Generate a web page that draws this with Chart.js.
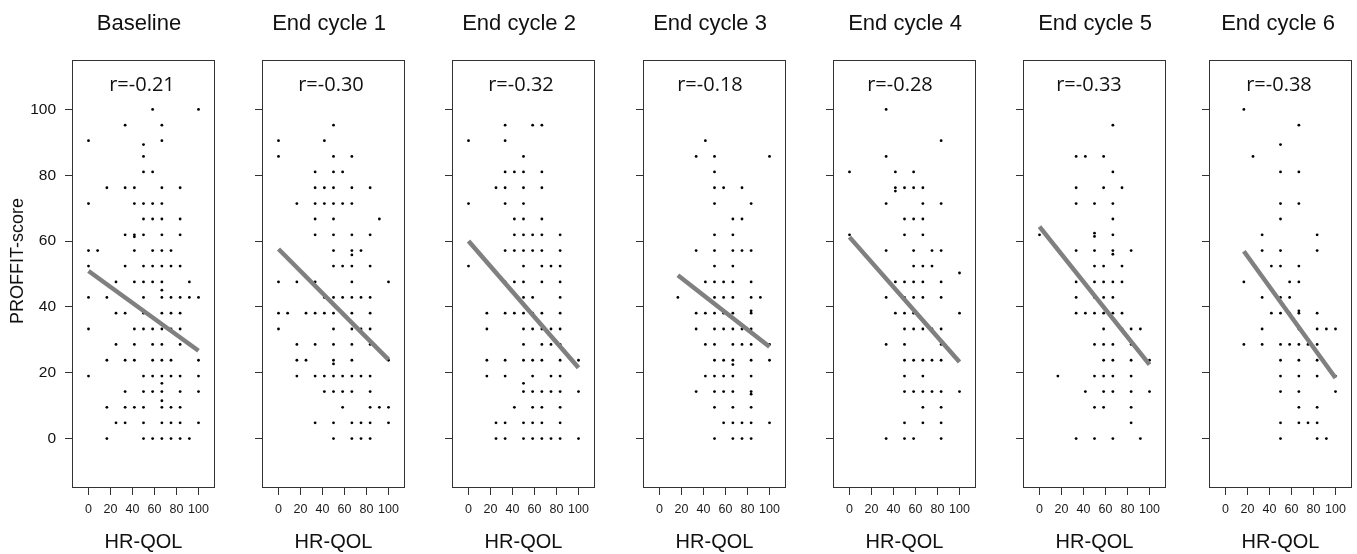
<!DOCTYPE html>
<html><head><meta charset="utf-8">
<script src="https://cdn.jsdelivr.net/npm/chart.js@4.4.1/dist/chart.umd.min.js"></script>
<style>
html,body{margin:0;padding:0;background:#fff;}
#wrap{position:relative;width:1357px;height:554px;overflow:hidden;background:#fff;}
#wrap canvas{position:absolute;top:0;}
</style></head><body><div id="wrap"></div>
<script>
// ---------- DATA ----------
const panelTitles = ['Baseline','End cycle 1','End cycle 2','End cycle 3','End cycle 4','End cycle 5','End cycle 6'];
const rLabels = ['r=-0.21','r=-0.30','r=-0.32','r=-0.18','r=-0.28','r=-0.33','r=-0.38'];
const xTickValues = [0,20,40,60,80,100];
const yTickValues = [0,20,40,60,80,100];
const xAxisTitle = 'HR-QOL';
const yAxisTitle = 'PROFFIT-score';

// points grouped as [PROFFIT-score, [HR-QOL values]]
const ptsBaseline = [
 [100,[58.3,100]],[95.2,[33.3,66.7]],[90.5,[0,66.7]],[89.3,[50]],[85.7,[50]],[81,[50,58.3]],
 [76.2,[16.7,33.3,41.7,66.7,83.3]],[71.4,[0,41.7,50,58.3,66.7]],[66.7,[50,58.3,66.7,83.3]],
 [61.9,[33.3,41.7,50,66.7,83.3]],[61.3,[41.7]],[57.1,[0,8.3,41.7,58.3,66.7,75]],
 [52.4,[0,33.3,50,58.3,66.7,75,83.3]],[47.6,[25,41.7,50,58.3,66.7,91.7]],[45.1,[66.7]],
 [42.9,[0,16.7,33.3,50,66.7,75,83.3,91.7,100]],[38.6,[50]],[38.1,[25,33.3,50,66.7,75,83.3]],
 [33.3,[0,41.7,50,58.3,66.7,75,83.3]],[28.6,[25,41.7,58.3,66.7,83.3,91.7]],
 [23.8,[16.7,33.3,41.7,58.3,66.7,75,100]],[19,[0,50,58.3,66.7,75,83.3,100]],[16.8,[66.7]],
 [14.3,[33.3,50,58.3,66.7,83.3,100]],[11.5,[66.7]],[9.5,[16.7,33.3,41.7,50,66.7,75,83.3]],
 [4.8,[25,33.3,50,66.7,75,83.3,100]],[0,[16.7,50,58.3,66.7,75,83.3,91.7]]
];
const ptsCycle1 = [
 [95.2,[50]],[90.5,[0,41.7]],[85.7,[0,50,66.7]],[81,[33.3,50,58.3]],
 [76.2,[33.3,41.7,50,66.7,83.3]],[71.4,[16.7,33.3,41.7,50,58.3,66.7]],[66.7,[33.3,50,91.7]],
 [61.9,[33.3,50,66.7,83.3]],[57.1,[50,66.7,75]],[55.8,[66.7]],[52.4,[50,58.3,66.7,83.3]],
 [47.6,[0,16.7,33.3,66.7,100]],[42.9,[41.7,50,58.3,66.7,75,83.3]],
 [38.1,[0,8.3,25,33.3,41.7,50,58.3,66.7,83.3]],[33.3,[0,50,66.7,75,83.3]],
 [28.6,[16.7,33.3,50,66.7,83.3]],[23.8,[16.7,25,50,66.7,100]],[22.7,[50]],
 [19,[16.7,33.3,41.7,50,58.3,66.7,75,83.3]],[14.3,[41.7,50,58.3,66.7,83.3]],
 [9.5,[58.3,83.3,91.7,100]],[4.8,[33.3,50,66.7,75,83.3,100]],[0,[50,66.7,75,83.3]]
];
const ptsCycle2 = [
 [95.2,[33.3,58.3,66.7]],[90.5,[0,33.3]],[85.7,[50]],[81,[33.3,41.7,50,66.7]],
 [76.2,[25,33.3,50,66.7]],[71.4,[0,33.3,50]],[66.7,[41.7,50,66.7]],
 [61.9,[41.7,50,58.3,66.7,83.3]],[57.1,[33.3,41.7,50,58.3,66.7,83.3]],
 [52.4,[0,50,66.7,75,83.3]],[47.6,[33.3,41.7,50,66.7,83.3]],[42.9,[50,58.3,83.3]],
 [38.1,[16.7,33.3,41.7,50,58.3,66.7,83.3]],[33.3,[16.7,50,58.3,66.7,75,83.3]],
 [28.6,[50,66.7,75,83.3]],[23.8,[16.7,33.3,50,58.3,66.7,83.3,100]],[19,[16.7,33.3,58.3,75,83.3]],
 [16.8,[50]],[14.3,[50,58.3,66.7,75,83.3,100]],[9.5,[41.7,58.3,66.7,83.3]],
 [4.8,[25,33.3,50,58.3,66.7,83.3]],[0,[25,33.3,50,58.3,66.7,75,83.3,100]]
];
const ptsCycle3 = [
 [90.5,[41.7]],[85.7,[33.3,50,100]],[81,[50]],[76.2,[50,58.3,75]],[71.4,[50,83.3]],
 [66.7,[66.7,75]],[61.9,[50,66.7]],[57.1,[33.3,50,66.7,75,83.3]],[52.4,[50,66.7]],
 [47.6,[41.7,50,58.3,66.7,83.3]],[42.9,[16.7,50,58.3,66.7,83.3,91.7]],[38.8,[83.3]],
 [38.1,[33.3,41.7,50,58.3,66.7,83.3]],[33.3,[33.3,50,58.3,66.7,75,83.3]],
 [28.6,[41.7,50,66.7,75,83.3,100]],[23.8,[50,58.3,66.7,83.3,100]],[22.5,[66.7]],
 [19,[41.7,50,58.3,66.7,83.3]],[14.3,[33.3,50,58.3,66.7,83.3]],[13.5,[83.3]],
 [9.5,[50,66.7,83.3]],[4.8,[58.3,66.7,75,83.3,100]],[0,[50,66.7,75,83.3]]
];
const ptsCycle4 = [
 [100,[33.3]],[90.5,[83.3]],[85.7,[33.3]],[81,[0,41.7,58.3]],[76.2,[41.7,50,58.3,66.7]],
 [75.2,[41.7]],[71.4,[33.3,66.7,83.3]],[66.7,[50,58.3,66.7]],[61.9,[0,50,66.7]],
 [57.1,[33.3,58.3,75,83.3]],[52.4,[58.3,66.7,75]],[50.3,[100]],[47.6,[41.7,50,58.3,66.7,83.3]],
 [42.9,[33.3,50,58.3,66.7,83.3]],[38.1,[41.7,50,58.3,100]],[33.3,[50,58.3,66.7,75,83.3]],
 [28.6,[33.3,50,83.3]],[23.8,[50,58.3,66.7,75,83.3]],[19,[50,66.7]],
 [14.3,[50,58.3,66.7,75,83.3,100]],[9.5,[66.7,83.3]],[4.8,[50,66.7,83.3]],[0,[33.3,50,58.3,83.3]]
];
const ptsCycle5 = [
 [95.2,[66.7]],[85.7,[33.3,41.7,58.3]],[81,[66.7]],[76.2,[33.3,58.3,75]],[71.4,[33.3,50,66.7]],
 [66.7,[66.7]],[62.4,[50]],[61.9,[0,66.7]],[61.4,[50]],[57.1,[33.3,50,66.7,83.3]],[56,[66.7]],
 [52.4,[50,58.3,75]],[47.6,[33.3,50,58.3,66.7,75]],[42.9,[33.3,50,58.3,66.7]],
 [38.1,[33.3,41.7,50,58.3,66.7,75]],[33.3,[58.3,75,83.3,91.7]],[28.6,[50,58.3,66.7,83.3]],
 [23.8,[58.3,66.7,83.3,100]],[19,[16.7,50,58.3,66.7,83.3]],[14.3,[41.7,58.3,66.7,83.3,100]],
 [9.5,[50,58.3,83.3]],[4.8,[83.3]],[0,[33.3,50,66.7,91.7]]
];
const ptsCycle6 = [
 [100,[16.7]],[95.2,[66.7]],[89.3,[50]],[85.7,[25]],[81,[50,66.7]],[71.4,[50,66.7]],[66.7,[50]],
 [61.9,[33.3,83.3]],[57.1,[33.3,50,83.3]],[52.4,[41.7,50,66.7]],[47.6,[16.7,58.3,66.7]],
 [42.9,[33.3,50,58.3]],[38.8,[66.7]],[38.1,[41.7,50,58.3,66.7,83.3]],
 [33.3,[33.3,66.7,83.3,91.7,100]],[28.6,[16.7,33.3,50,58.3,66.7,75,83.3]],
 [23.8,[50,66.7,83.3]],[19,[50,66.7,83.3,100]],[14.3,[50,66.7,100]],[9.5,[66.7,83.3]],
 [4.8,[50,66.7,75,83.3]],[0,[50,83.3,91.7]]
];
// regression line end points
const lineX1 = [0,0,0,16.7,0,0,16.7];
const lineY1 = [50.9,57.6,60.0,49.6,61.2,64.4,56.9];
const lineX2 = [100,100,100,100,100,100,100];
const lineY2 = [26.7,24.0,21.5,27.9,23.3,22.5,18.4];

const panelPoints = [ptsBaseline,ptsCycle1,ptsCycle2,ptsCycle3,ptsCycle4,ptsCycle5,ptsCycle6];

// ---------- LAYOUT ----------
const frameLeft = [72,262,452,643,833,1023,1209];
const titleCX = [139,329,519,710,905,1095,1278];
const rCX = [142,331,521,710,900,1089,1279];
const FRAME_W = 143, FRAME_TOP = 60, AXIS_H = 66, YAXIS_W = 72, RIGHT_PAD = 8, H = 554;
const SANS = "'Liberation Sans', Arial, sans-serif";

const wrap = document.getElementById('wrap');

panelPoints.forEach((rows, i) => {
  const cv = document.createElement('canvas');
  const cw = YAXIS_W + FRAME_W + RIGHT_PAD;
  const left = frameLeft[i] - YAXIS_W;
  cv.width = cw; cv.height = H;
  cv.style.left = left + 'px';
  cv.style.width = cw + 'px'; cv.style.height = H + 'px';
  wrap.appendChild(cv);

  const pts = rows.flatMap(([y, xs]) => xs.map(x => ({x, y})));
  const isFirst = i === 0;

  const textPlugin = {
    id: 'panelText',
    afterDraw(chart) {
      const {ctx, chartArea: a} = chart;
      ctx.save();
      ctx.strokeStyle = '#333';
      ctx.lineWidth = 1;
      ctx.strokeRect(a.left + 0.5, a.top + 0.5, a.right - a.left - 1, a.bottom - a.top - 1);
      ctx.fillStyle = '#111';
      ctx.textAlign = 'center';
      ctx.textBaseline = 'middle';
      ctx.font = "22px " + SANS;
      ctx.fillText(panelTitles[i], titleCX[i] - left, 23.5);
      ctx.font = "20px 'Open Sans', 'Liberation Sans', sans-serif";
      ctx.fillText(rLabels[i], rCX[i] - left, 85);
      if (isFirst) {
        ctx.translate(18, 261);
        ctx.rotate(-Math.PI / 2);
        ctx.font = "18px " + SANS;
        ctx.fillText(yAxisTitle, 0, 0);
      }
      ctx.restore();
    }
  };

  new Chart(cv, {
    type: 'scatter',
    data: {
      datasets: [
        {
          data: [{x: lineX1[i], y: lineY1[i]}, {x: lineX2[i], y: lineY2[i]}],
          showLine: true, borderColor: '#808080', borderWidth: 4.5,
          pointRadius: 0, borderCapStyle: 'butt'
        },
        {
          data: pts, pointRadius: 1.4, pointBorderWidth: 0,
          pointBackgroundColor: '#000', backgroundColor: '#000', borderColor: '#000'
        }
      ]
    },
    options: {
      responsive: false, animation: false, devicePixelRatio: 1,
      layout: {padding: {top: FRAME_TOP, right: RIGHT_PAD, bottom: 0, left: 0}},
      plugins: {legend: {display: false}, tooltip: {enabled: false}},
      scales: {
        x: {
          type: 'linear', min: -15, max: 115,
          afterBuildTicks: s => { s.ticks = xTickValues.map(v => ({value: v})); },
          afterFit: s => { s.height = AXIS_H; },
          grid: {drawOnChartArea: false, drawTicks: true, tickLength: 7, color: '#333', lineWidth: 1},
          border: {display: false},
          ticks: {font: {family: SANS, size: 12.5}, color: '#1a1a1a', padding: 7, maxRotation: 0, autoSkip: false},
          title: {display: true, text: xAxisTitle, font: {family: SANS, size: 20}, color: '#111', padding: 0}
        },
        y: {
          type: 'linear', min: -15, max: 115,
          afterBuildTicks: s => { s.ticks = yTickValues.map(v => ({value: v})); },
          afterFit: s => { s.width = YAXIS_W; },
          grid: {drawOnChartArea: false, drawTicks: true, tickLength: 7, color: '#333', lineWidth: 1},
          border: {display: false},
          ticks: {display: isFirst, font: {family: SANS, size: 15.5}, color: '#111', padding: 9, autoSkip: false}
        }
      }
    },
    plugins: [textPlugin]
  });
});
</script>
</body></html>
